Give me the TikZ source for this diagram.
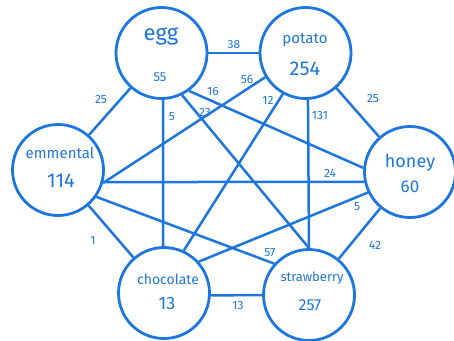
\documentclass[tikz,border=0pt]{standalone}
\usepackage{fontspec}
\setmainfont{Fira Sans}
\definecolor{bl}{RGB}{28,118,222}
\tikzset{
  vtx/.style={circle, draw=bl, line width=2.8pt, minimum size=91pt, inner sep=0pt},
  con/.style={draw=bl, line width=2.5pt},
  nm/.style={text=bl, inner sep=0pt, font=\fontsize{#1}{#1}\selectfont},
  nm/.default=15,
  lab/.style={text=bl, inner sep=0pt, font=\fontsize{12}{12}\selectfont}
}
\begin{document}
\begin{tikzpicture}[x=1pt,y=-1pt]
\useasboundingbox (0,0) rectangle (454,340);
% vertices
\node[vtx] (egg) at (161.5,53) {};
\node[vtx] (pot) at (305.5,53) {};
\node[vtx] (emm) at (58,170) {};
\node[vtx] (hon) at (410,172) {};
\node[vtx] (cho) at (164,293) {};
\node[vtx] (str) at (309,295) {};
% edges
\draw[con] (egg) -- (pot);
\draw[con] (egg) -- (emm);
\draw[con] (egg.-88) -- (cho.91);
\draw[con] (egg.-64) -- (str.north);
\draw[con] (egg.-54) -- (hon.175);
\draw[con] (pot.-149) -- (emm.-16);
\draw[con] (pot.-119) -- (cho.65);
\draw[con] (pot.-87) -- (str.90);
\draw[con] (pot) -- (hon);
\draw[con] (emm.-15) -- (hon.192);
\draw[con] (emm.-35) -- (str.138);
\draw[con] (emm) -- (cho);
\draw[con] (hon.206) -- (cho.42);
\draw[con] (hon) -- (str);
\draw[con] (cho.-3) -- (str.180);
% vertex texts
\node[nm=22] (eggn) at (161,36) {egg};
\node[nm=13] (eggv) at (160,77) {55};
\node[nm=15] (potn) at (305,40) {potato};
\node[nm=20] (potv) at (305,69) {254};
\node[nm=15] (emmn) at (60,153) {emmental};
\node[nm=20] (emmv) at (61,181) {114};
\node[nm=18] (honn) at (410,163) {honey};
\node[nm=17] (honv) at (410,187) {60};
\node[nm=14] (chon) at (168,279) {chocolate};
\node[nm=18] (chov) at (167,303) {13};
\node[nm=13] (strn) at (312,278) {strawberry};
\node[nm=16] (strv) at (310,305) {257};
% edge labels
\node[lab] (l1) at (234,44) {38};
\node[lab] (l2) at (101,99) {25};
\node[lab] (l3) at (172,117) {5};
\node[lab] (l4) at (213,91) {16};
\node[lab] (l5) at (205,112) {23};
\node[lab] (l6) at (247,79) {56};
\node[lab] (l7) at (268,100) {12};
\node[lab] (l8) at (320,115) {131};
\node[lab] (l9) at (373,98) {25};
\node[lab] (l10) at (330,173) {24};
\node[lab] (l11) at (357,207) {5};
\node[lab] (l12) at (270,253) {57};
\node[lab] (l13) at (93,240) {1};
\node[lab] (l14) at (375,245) {42};
\node[lab] (l15) at (238,305) {13};
\end{tikzpicture}
\end{document}
